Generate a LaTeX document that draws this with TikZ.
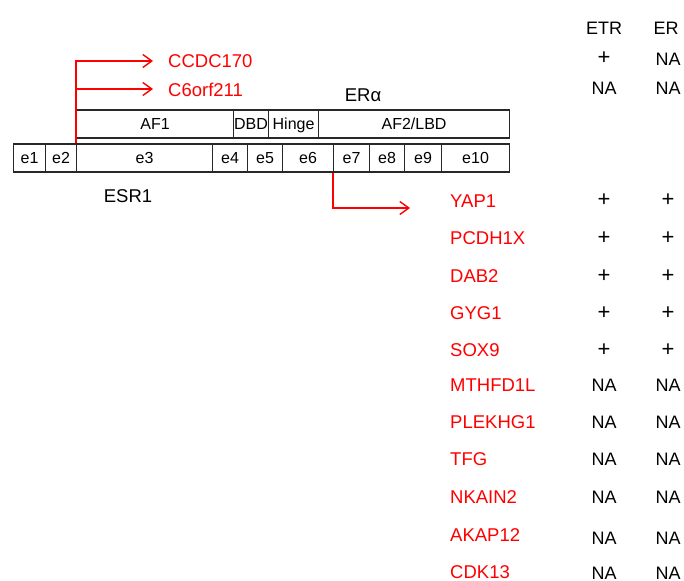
\documentclass[tikz,border=0pt]{standalone}
\usepackage{fontspec}
\setmainfont{Liberation Sans}
\usetikzlibrary{arrows.meta}
\definecolor{genered}{RGB}{255,0,0}
\definecolor{boxline}{RGB}{40,40,40}
\tikzset{
  exonbox/.style={draw=boxline, line width=1.1pt, inner sep=0pt, minimum height=28pt,
    anchor=west, font=\fontsize{16}{18}\selectfont, text height=11.5pt, text depth=0pt},
  genetxt/.style={inner sep=0pt, text=genered, font=\fontsize{18.5}{20}\selectfont,
    text height=13.2pt, text depth=0pt, anchor=west},
  valtxt/.style={inner sep=0pt, font=\fontsize{18}{20}\selectfont,
    text height=12.9pt, text depth=0pt},
  plustxt/.style={inner sep=0pt, font=\fontsize{22}{24}\selectfont},
  plaintxt/.style={inner sep=0pt, font=\fontsize{18.5}{20}\selectfont,
    text height=13.2pt, text depth=0pt},
  redline/.style={draw=genered, line width=1.4pt},
  redarrow/.style={redline, -{Straight Barb[length=9pt,width=13pt,line width=1.4pt]}}
}
\begin{document}
\begin{tikzpicture}[x=1pt,y=-1pt]
\useasboundingbox[fill=white] (0,0) rectangle (684,580);
% domains
\node[exonbox, minimum width=157pt] (af1) at (76,124) {AF1};
\node[exonbox, minimum width=35pt] (dbd) at (233,124) {DBD};
\node[exonbox, minimum width=50pt] (hinge) at (268,124) {Hinge};
\node[exonbox, minimum width=191pt] (af2) at (318,124) {AF2/LBD};
% exons
\node[exonbox, minimum width=32pt] (e1) at (13,158) {e1};
\node[exonbox, minimum width=31pt] (e2) at (45,158) {e2};
\node[exonbox, minimum width=136pt] (e3) at (76,158) {e3};
\node[exonbox, minimum width=35pt] (e4) at (212,158) {e4};
\node[exonbox, minimum width=35pt] (e5) at (247,158) {e5};
\node[exonbox, minimum width=51pt] (e6) at (282,158) {e6};
\node[exonbox, minimum width=36pt] (e7) at (333,158) {e7};
\node[exonbox, minimum width=35pt] (e8) at (369,158) {e8};
\node[exonbox, minimum width=37pt] (e9) at (404,158) {e9};
\node[exonbox, minimum width=68pt] (e10) at (441,158) {e10};
% labels
\node[plaintxt] (era) at (363,95) {ER\char"03B1};
\node[plaintxt] (esr) at (128,195.5) {ESR1};
% upper genes
\node[genetxt] (ccdc) at (168,61) {CCDC170};
\node[genetxt] (c6) at (168,89.5) {C6orf211};
\coordinate (branch) at (76,89);
\draw[redarrow, shorten >=15pt] (e3.north west) |- (ccdc.west);
\draw[redarrow, shorten >=15pt] (branch) -- (c6.west |- branch);
% lower connector
\coordinate (yapend) at (410,208);
\draw[redarrow] (e7.south west) |- (yapend);
% headers
\node[valtxt] (hetr) at (604,28) {ETR};
\node[valtxt] (her) at (666,28) {ER};
\node[plustxt] (v1a) at (604,58.5) {+};
\node[valtxt] (v1b) at (668,59) {NA};
\node[valtxt] (v2a) at (604,88) {NA};
\node[valtxt] (v2b) at (668,88) {NA};
% table genes
\node[genetxt] (g1) at (450,200.5) {YAP1};
\node[genetxt] (g2) at (450,238) {PCDH1X};
\node[genetxt] (g3) at (450,276) {DAB2};
\node[genetxt] (g4) at (450,313) {GYG1};
\node[genetxt] (g5) at (450,350) {SOX9};
\node[genetxt] (g6) at (450,385) {MTHFD1L};
\node[genetxt] (g7) at (450,422) {PLEKHG1};
\node[genetxt] (g8) at (450,459) {TFG};
\node[genetxt] (g9) at (450,497) {NKAIN2};
\node[genetxt] (g10) at (450,535) {AKAP12};
\node[genetxt] (g11) at (450,572) {CDK13};
% values
\node[plustxt] (p1a) at (604,200) {+};
\node[plustxt] (p1b) at (668,200) {+};
\node[plustxt] (p2a) at (604,238) {+};
\node[plustxt] (p2b) at (668,238) {+};
\node[plustxt] (p3a) at (604,276) {+};
\node[plustxt] (p3b) at (668,276) {+};
\node[plustxt] (p4a) at (604,313) {+};
\node[plustxt] (p4b) at (668,313) {+};
\node[plustxt] (p5a) at (604,350) {+};
\node[plustxt] (p5b) at (668,350) {+};
\node[valtxt] (n6a) at (604,385) {NA};
\node[valtxt] (n6b) at (668,385) {NA};
\node[valtxt] (n7a) at (604,422) {NA};
\node[valtxt] (n7b) at (668,422) {NA};
\node[valtxt] (n8a) at (604,459) {NA};
\node[valtxt] (n8b) at (668,459) {NA};
\node[valtxt] (n9a) at (604,497) {NA};
\node[valtxt] (n9b) at (668,497) {NA};
\node[valtxt] (n10a) at (604,538) {NA};
\node[valtxt] (n10b) at (668,538) {NA};
\node[valtxt] (n11a) at (604,573) {NA};
\node[valtxt] (n11b) at (668,573) {NA};
\end{tikzpicture}
\end{document}
